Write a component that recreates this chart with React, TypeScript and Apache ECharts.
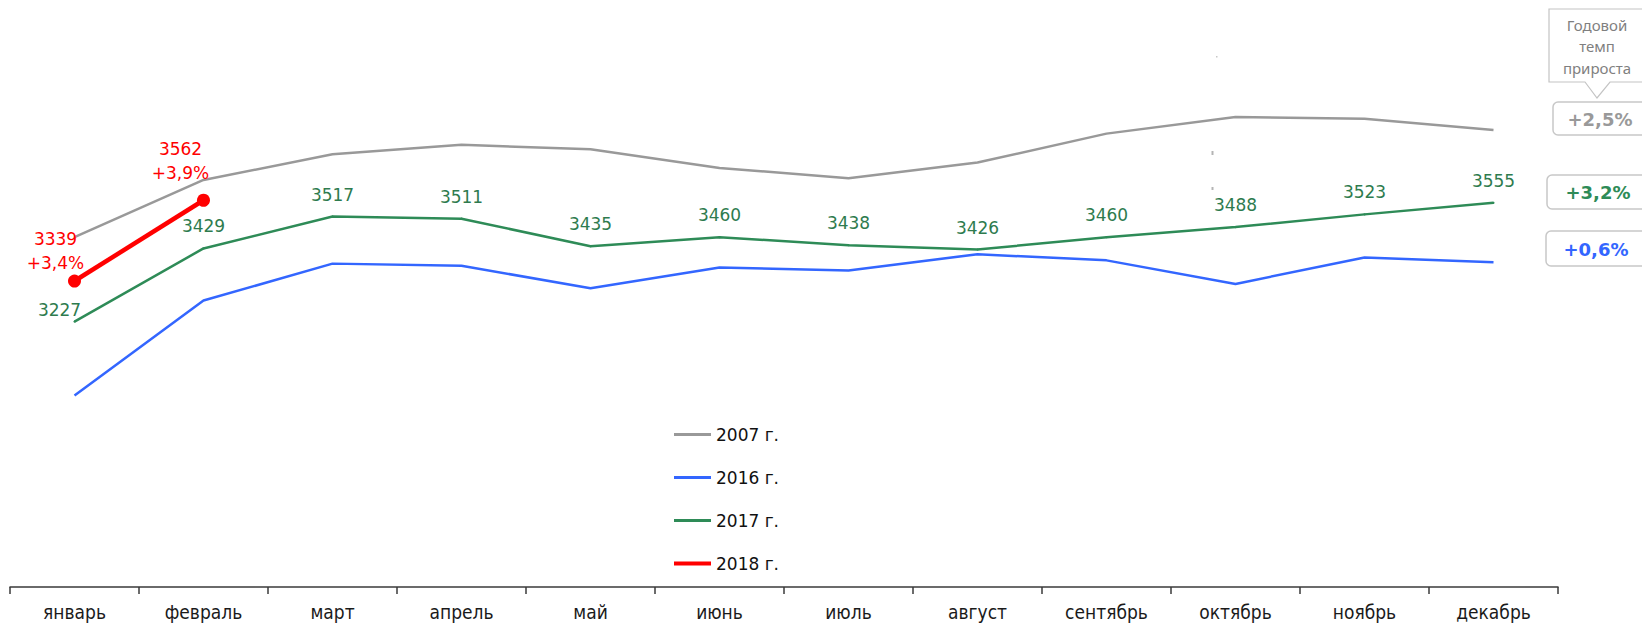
import React, { useEffect, useRef } from 'react';
import * as echarts from 'echarts';

const months = ['январь', 'февраль', 'март', 'апрель', 'май', 'июнь', 'июль', 'август', 'сентябрь', 'октябрь', 'ноябрь', 'декабрь'];
const seriesNames = ['2007 г.', '2016 г.', '2017 г.', '2018 г.'];
const values2007 = [3460, 3618, 3689, 3715, 3703, 3651, 3623, 3666, 3746, 3792, 3787, 3756];
const values2016 = [3023, 3285, 3387, 3381, 3319, 3376, 3368, 3413, 3396, 3331, 3404, 3391];
const values2017 = [3227, 3429, 3517, 3511, 3435, 3460, 3438, 3426, 3460, 3488, 3523, 3555];
const values2018 = [3339, 3562];
const growth2018 = ['+3,4%', '+3,9%'];
const annualGrowth = ['+2,5%', '+3,2%', '+0,6%'];
const calloutLines = ['Годовой', 'темп', 'прироста'];

const C_GRAY = '#999999';
const C_BLUE = '#3366ff';
const C_GREEN = '#2e8b57';
const C_GREEN_LABEL = '#2e7b4e';
const C_RED = '#ff0000';

export default function App() {
  const ref = useRef<HTMLDivElement>(null);
  useEffect(() => {
    if (!ref.current) return;
    const chart = echarts.init(ref.current, undefined, { renderer: 'svg' });
    const font = 'DejaVu Sans, Verdana, sans-serif';
    const badgeColors = [C_GRAY, C_GREEN, C_BLUE];
    const badgeBoxes = [
      { x: 1553, y: 102, h: 33 },
      { x: 1547, y: 175, h: 34 },
      { x: 1546, y: 231, h: 35 },
    ];
    const badgeTextPos = [
      { x: 1600, y: 119 },
      { x: 1598, y: 192.5 },
      { x: 1596, y: 249 },
    ];
    const graphic: any[] = [
      {
        type: 'polygon',
        shape: {
          points: [[1549, 9], [1650, 9], [1650, 82], [1610, 82], [1597, 98], [1585, 82], [1549, 82]],
        },
        style: { fill: '#ffffff', stroke: '#c4c4c4', lineWidth: 1.2 },
      },
      {
        type: 'text',
        x: 1597,
        y: 46,
        style: {
          text: calloutLines.join('\n'),
          fill: '#7f7f7f',
          font: '15px "Noto Sans", sans-serif',
          lineHeight: 21.5,
          align: 'center',
          verticalAlign: 'middle',
        },
      },
      { type: 'rect', shape: { x: 1216, y: 56, width: 1.5, height: 1.5 }, style: { fill: '#c8c8c8' } },
      { type: 'rect', shape: { x: 1211.5, y: 151, width: 2, height: 4 }, style: { fill: '#b4b4b4' } },
      { type: 'rect', shape: { x: 1211.5, y: 187, width: 2, height: 3 }, style: { fill: '#b4b4b4' } },
    ];
    annualGrowth.forEach((t, i) => {
      const b = badgeBoxes[i];
      graphic.push({
        type: 'rect',
        shape: { x: b.x, y: b.y, width: 1660 - b.x, height: b.h, r: 5 },
        style: { fill: '#ffffff', stroke: '#c8c8c8', lineWidth: 1.5 },
      });
      graphic.push({
        type: 'text',
        x: badgeTextPos[i].x,
        y: badgeTextPos[i].y,
        style: {
          text: t,
          fill: badgeColors[i],
          font: 'bold 18px "DejaVu Sans", sans-serif',
          align: 'center',
          verticalAlign: 'middle',
        },
      });
    });

    const greenOffsets: Record<number, number[]> = { 0: [-15, -12] };
    const redOffsets = [[-19, -30], [-23, -39]];
    const thinIcon = 'path://M0 0H37V3H0Z';

    chart.setOption({
      animation: false,
      grid: { left: 10, right: 84, top: 0, bottom: 36, containLabel: false },
      legend: {
        orient: 'vertical',
        left: 674,
        top: 426,
        padding: 0,
        itemWidth: 37,
        itemHeight: 4,
        itemGap: 26,
        textStyle: { fontFamily: font, fontSize: 17, color: '#111111' },
        data: [
          { name: seriesNames[0], icon: thinIcon },
          { name: seriesNames[1], icon: thinIcon },
          { name: seriesNames[2], icon: thinIcon },
          { name: seriesNames[3], icon: 'rect' },
        ],
      },
      xAxis: {
        type: 'category',
        data: months,
        boundaryGap: true,
        axisLine: { show: true, lineStyle: { color: '#3a3a3a', width: 1.5 } },
        axisTick: { show: true, length: 7, interval: 0, lineStyle: { color: '#3a3a3a', width: 1.5 } },
        axisLabel: {
          interval: 0,
          margin: 15,
          color: '#1a1a1a',
          fontFamily: '"DejaVu Sans Condensed", "DejaVu Sans", sans-serif',
          fontSize: 19,
        },
      },
      yAxis: {
        type: 'value',
        min: 2494,
        max: 4115,
        show: false,
        splitLine: { show: false },
      },
      series: [
        {
          name: seriesNames[0],
          type: 'line',
          data: values2007,
          showSymbol: false,
          symbol: 'none',
          lineStyle: { color: C_GRAY, width: 2.5 },
          itemStyle: { color: C_GRAY },
          z: 2,
        },
        {
          name: seriesNames[1],
          type: 'line',
          data: values2016,
          showSymbol: false,
          symbol: 'none',
          lineStyle: { color: C_BLUE, width: 2.5 },
          itemStyle: { color: C_BLUE },
          z: 2,
        },
        {
          name: seriesNames[2],
          type: 'line',
          data: values2017.map((v, i) =>
            greenOffsets[i] ? { value: v, label: { offset: greenOffsets[i] } } : v
          ),
          symbol: 'circle',
          symbolSize: 2,
          showSymbol: true,
          lineStyle: { color: C_GREEN, width: 2.5 },
          itemStyle: { color: C_GREEN },
          label: {
            show: true,
            position: 'inside',
            offset: [0, -22],
            color: C_GREEN_LABEL,
            fontFamily: font,
            fontSize: 17,
            textBorderWidth: 0,
          },
          z: 3,
        },
        {
          name: seriesNames[3],
          type: 'line',
          data: values2018.map((v, i) => ({ value: v, label: { offset: redOffsets[i] } })),
          symbol: 'circle',
          symbolSize: 13,
          showSymbol: true,
          lineStyle: { color: C_RED, width: 4.5 },
          itemStyle: { color: C_RED },
          label: {
            show: true,
            position: 'inside',
            color: C_RED,
            fontFamily: font,
            fontSize: 17,
            lineHeight: 24,
            textBorderWidth: 0,
            formatter: (p: any) => `${values2018[p.dataIndex]}\n${growth2018[p.dataIndex]}`,
          },
          z: 4,
        },
      ],
      graphic,
    });
    return () => chart.dispose();
  }, []);
  return (
    <div
      ref={ref}
      style={{ position: 'fixed', left: 0, top: 0, width: 1642, height: 623, background: '#ffffff' }}
    />
  );
}
